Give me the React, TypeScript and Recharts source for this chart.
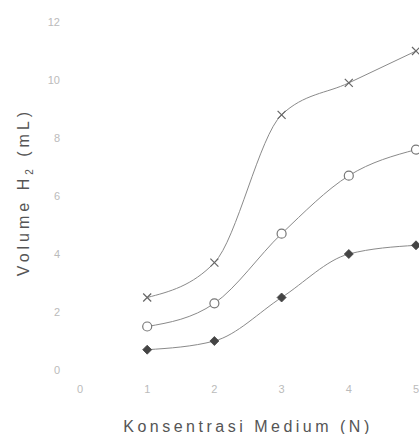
import React from 'react';
import { LineChart, Line, XAxis, YAxis } from 'recharts';

// Konsentrasi medium (N) vs volume H2 (mL), three series
const konsentrasi = [1, 2, 3, 4, 5];
const volumeCross = [2.5, 3.7, 8.8, 9.9, 11.0];
const volumeCircle = [1.5, 2.3, 4.7, 6.7, 7.6];
const volumeDiamond = [0.7, 1.0, 2.5, 4.0, 4.3];
const xTicks = [0, 1, 2, 3, 4, 5];
const yTicks = [0, 2, 4, 6, 8, 10, 12];

const data = konsentrasi.map((k, i) => ({
  k,
  cross: volumeCross[i],
  circle: volumeCircle[i],
  diamond: volumeDiamond[i],
}));

const FONT = '"Liberation Sans", Arial, sans-serif';
const LINE = '#8a8a8a';

const CrossDot = (props: any) => {
  const { cx, cy, index } = props;
  if (cx == null || cy == null) return <g key={`x-${index}`} />;
  const s = 4;
  return (
    <path
      key={`x-${index}`}
      d={`M${cx - s},${cy - s}L${cx + s},${cy + s}M${cx - s},${cy + s}L${cx + s},${cy - s}`}
      stroke="#666"
      strokeWidth={1.2}
      fill="none"
    />
  );
};

const CircleDot = (props: any) => {
  const { cx, cy, index } = props;
  if (cx == null || cy == null) return <g key={`o-${index}`} />;
  return <circle key={`o-${index}`} cx={cx} cy={cy} r={4.5} stroke="#777" strokeWidth={1.2} fill="#fff" />;
};

const DiamondDot = (props: any) => {
  const { cx, cy, index } = props;
  if (cx == null || cy == null) return <g key={`d-${index}`} />;
  const s = 4.5;
  return (
    <path
      key={`d-${index}`}
      d={`M${cx},${cy - s}L${cx + s},${cy}L${cx},${cy + s}L${cx - s},${cy}Z`}
      fill="#444"
      stroke="#444"
      strokeWidth={0.8}
    />
  );
};

const YTitle = (props: any) => {
  const vb = props.viewBox || { x: 0, y: 0, height: 0 };
  const x = vb.x + 29;
  const y = vb.y + vb.height / 2 - 4;
  return (
    <text
      x={x}
      y={y}
      transform={`rotate(-90 ${x} ${y})`}
      textAnchor="middle"
      fill="#555"
      fontSize={16}
      fontFamily={FONT}
      letterSpacing={4}
    >
      Volume H<tspan fontSize={10} dy={4}>2</tspan>
      <tspan dy={-4}> (mL)</tspan>
    </text>
  );
};

export default function App() {
  return (
    <div
      style={{
        position: 'absolute',
        left: 0,
        top: 0,
        width: 419,
        height: 434,
        overflow: 'hidden',
        background: '#fff',
      }}
    >
      <LineChart width={430} height={434} data={data} margin={{ top: 22, right: 14, bottom: 0, left: 0 }}>
        <XAxis
          dataKey="k"
          type="number"
          domain={[0, 5]}
          ticks={xTicks}
          axisLine={false}
          tickLine={false}
          tickMargin={9}
          height={64}
          tick={{ fill: '#bbb', fontSize: 11, fontFamily: FONT }}
          label={{
            value: 'Konsentrasi Medium (N)',
            position: 'insideBottom',
            offset: 0,
            fill: '#555',
            fontSize: 16,
            fontFamily: FONT,
            letterSpacing: 3.5,
            dy: -2,
          }}
        />
        <YAxis
          type="number"
          domain={[0, 12]}
          ticks={yTicks}
          width={80}
          axisLine={false}
          tickLine={false}
          tickMargin={14}
          tick={{ fill: '#bbb', fontSize: 11, fontFamily: FONT }}
          label={{ content: YTitle }}
        />
        <Line
          type="monotone"
          dataKey="cross"
          stroke={LINE}
          strokeWidth={1}
          dot={CrossDot}
          activeDot={false}
          isAnimationActive={false}
        />
        <Line
          type="monotone"
          dataKey="circle"
          stroke={LINE}
          strokeWidth={1}
          dot={CircleDot}
          activeDot={false}
          isAnimationActive={false}
        />
        <Line
          type="monotone"
          dataKey="diamond"
          stroke={LINE}
          strokeWidth={1}
          dot={DiamondDot}
          activeDot={false}
          isAnimationActive={false}
        />
      </LineChart>
    </div>
  );
}
